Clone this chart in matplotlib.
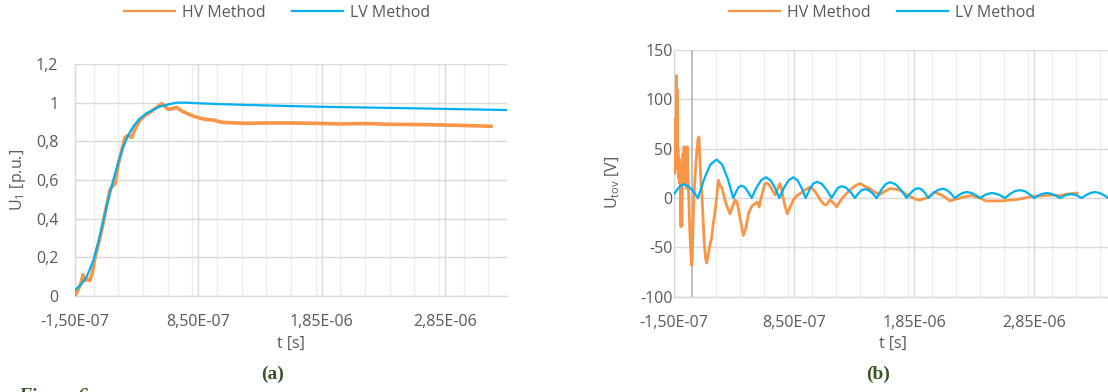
import matplotlib
matplotlib.use("Agg")
import matplotlib.pyplot as plt
from matplotlib.lines import Line2D
from matplotlib.ticker import FuncFormatter, MultipleLocator, FixedLocator

# ---------------- data (time in microseconds) ----------------
series_names = ["HV Method", "LV Method"]

# panel (a): U1 [p.u.]
t_hv_a = [-0.15, -0.12, -0.10, -0.085, -0.075, -0.05, -0.03, -0.01, 0.012, 0.04, 0.066,
          0.10, 0.134, 0.155, 0.174, 0.20, 0.229, 0.255, 0.28, 0.31, 0.34, 0.377, 0.42,
          0.458, 0.50, 0.553, 0.58, 0.607, 0.64, 0.675, 0.72, 0.756, 0.81, 0.864, 0.92,
          0.972, 1.03, 1.08, 1.16, 1.24, 1.4, 1.6, 1.8, 2.0, 2.2, 2.4, 2.6, 2.8, 3.0, 3.22]
v_hv_a = [0.0, 0.04, 0.07, 0.11, 0.08, 0.085, 0.08, 0.12, 0.20, 0.27, 0.34,
          0.45, 0.55, 0.57, 0.58, 0.68, 0.755, 0.82, 0.83, 0.82, 0.87, 0.91, 0.935,
          0.95, 0.97, 0.995, 0.98, 0.965, 0.97, 0.975, 0.955, 0.945, 0.93, 0.92, 0.912,
          0.91, 0.90, 0.897, 0.895, 0.893, 0.895, 0.895, 0.893, 0.89, 0.892, 0.888, 0.887,
          0.885, 0.882, 0.878]

t_lv_a = [-0.15, -0.1, -0.055, 0.0, 0.04, 0.08, 0.12, 0.16, 0.2, 0.24, 0.28, 0.32, 0.37,
          0.43, 0.49, 0.54, 0.6, 0.675, 0.75, 0.85, 1.0, 1.25, 1.5, 1.756, 2.0, 2.3, 2.67,
          3.0, 3.35]
v_lv_a = [0.03, 0.06, 0.10, 0.186, 0.28, 0.39, 0.50, 0.60, 0.69, 0.77, 0.83, 0.875, 0.915,
          0.945, 0.965, 0.98, 0.99, 1.0, 1.0, 0.997, 0.993, 0.988, 0.984, 0.98, 0.977, 0.974,
          0.97, 0.966, 0.962]

# panel (b): Utov [V]
t_hv_b = [-0.150, -0.147, -0.143, -0.138, -0.134, -0.130, -0.127, -0.124, -0.121, -0.117,
          -0.113, -0.108, -0.104, -0.100, -0.096, -0.092, -0.088, -0.084, -0.080, -0.075,
          -0.070, -0.066, -0.060, -0.052, -0.045, -0.040, -0.034, -0.028, -0.022, -0.016,
          -0.010, -0.004, 0.002, 0.008, 0.014, 0.022, 0.030, 0.039, 0.050, 0.058, 0.066,
          0.074, 0.082, 0.092, 0.102, 0.112, 0.122, 0.132, 0.145, 0.164, 0.178, 0.190,
          0.205, 0.22, 0.235, 0.248, 0.27, 0.29, 0.317, 0.34, 0.358, 0.375, 0.40, 0.428,
          0.45, 0.47, 0.50, 0.525, 0.545, 0.56, 0.58, 0.608, 0.63, 0.65, 0.67, 0.692,
          0.71, 0.733, 0.745, 0.76, 0.775, 0.794, 0.815, 0.844, 0.87, 0.90, 0.94, 0.983,
          1.0, 1.03, 1.06, 1.094, 1.12, 1.15, 1.18, 1.206, 1.23, 1.26, 1.30, 1.344, 1.37,
          1.40, 1.44, 1.483, 1.52, 1.567, 1.61, 1.65, 1.69, 1.733, 1.78, 1.817, 1.86, 1.90,
          1.95, 1.983, 2.02, 2.06, 2.09, 2.15, 2.20, 2.26, 2.33, 2.40, 2.45, 2.57, 2.71,
          2.84, 2.90, 2.98, 3.07, 3.13, 3.21]
v_hv_b = [60, 72, 25, 80, 30, 124, 40, 110, 30, 50,
          20, 40, 15, 35, -5, -29, 10, -28, 20, 45,
          15, 52, 30, 50, 10, 52, 20, 5, -20, -40,
          -55, -68, -60, -30, -5, 15, 30, 45, 60, 62, 40,
          15, 5, -20, -45, -60, -66, -60, -50, -40, -25, -16,
          0, 18, 12, 11, 0, -8, -16, -8, -2, -4, -20, -38,
          -30, -16, -8, -6, -4, -9, 2, 14.6, 15, 12, 8, 3,
          8, 14.6, 10, 0, -8, -16, -10, -2, 2, 4.4, 8, 11,
          10, 6, 0, -6, -7, -2, -5, -9, -4, 1, 6, 11, 13,
          14.6, 12, 9.5, 6, 3.7, 7, 9.5, 9, 8, 4, 1.7, -1, -2,
          0, 2, 6, 4, 2.5, -3, -1, 1, 2.5, 0, -3, -3, -1.5,
          1.7, 2, 3, 2.5, 4, 5]

t_lv_b = [-0.15, -0.12, -0.095, -0.07, -0.03, 0.01, 0.05,
          0.102, 0.153, 0.205, 0.251, 0.298, 0.344,
          0.366, 0.388, 0.41, 0.439, 0.468, 0.497,
          0.537, 0.577, 0.617, 0.654, 0.691, 0.728,
          0.767, 0.805, 0.844, 0.878, 0.913, 0.947,
          0.978, 1.009, 1.04, 1.081, 1.123, 1.164,
          1.192, 1.219, 1.247, 1.284, 1.321, 1.358,
          1.385, 1.413, 1.44, 1.473, 1.506, 1.539,
          1.576, 1.613, 1.65, 1.696, 1.743, 1.789,
          1.821, 1.854, 1.886, 1.914, 1.942, 1.97,
          2.01, 2.05, 2.09, 2.123, 2.157, 2.19,
          2.223, 2.257, 2.29, 2.327, 2.363, 2.40,
          2.433, 2.467, 2.50, 2.536, 2.572, 2.608,
          2.65, 2.691, 2.733, 2.772, 2.811, 2.85,
          2.885, 2.921, 2.956, 2.993, 3.03, 3.067,
          3.098, 3.129, 3.16, 3.189, 3.218, 3.247,
          3.284, 3.321, 3.358, 3.394, 3.431, 3.467, 3.50]
v_lv_b = [4, 9, 12.5, 14, 12, 7, 0,
          19.5, 34, 39, 34, 19.5, 0,
          6, 11, 12.5, 11, 6, 0,
          10.5, 18, 21, 18, 10.5, 0,
          10.5, 18, 21, 18, 10.5, 0,
          8, 14.5, 16.5, 14.5, 8, 0,
          6, 10.5, 12, 10.5, 6, 0,
          4.5, 8, 9, 8, 4.5, 0,
          8, 14, 16, 14, 8, 0,
          5, 8.7, 10, 8.7, 5, 0,
          4.7, 8.2, 9.5, 8.2, 4.7, 0,
          3, 5.2, 6, 5.2, 3, 0,
          2.5, 4.3, 5, 4.3, 2.5, 0,
          4, 7, 8, 7, 4, 0,
          2.5, 4.3, 5, 4.3, 2.5, 0,
          2, 3.5, 4, 3.5, 2, 0,
          3, 5.2, 6, 5.2, 3, 0, 2.5]

x_major_ticks = [-0.15, 0.85, 1.85, 2.85]
ya_ticks = [0, 0.2, 0.4, 0.6, 0.8, 1.0, 1.2]
yb_ticks = [-100, -50, 0, 50, 100, 150]

# ---------------- style ----------------
W, H = 1108, 392
ORANGE = "#F79646"
BLUE = "#00B0F0"
TXT = "#595959"
GRID = "#D9D9D9"
MINOR = "#EDEDED"
FONT = "Open Sans"
FS = 11.5

plt.rcParams["font.family"] = [FONT, "DejaVu Sans"]
plt.rcParams["mathtext.fontset"] = "custom"
plt.rcParams["mathtext.rm"] = FONT
plt.rcParams["mathtext.it"] = FONT + ":italic"

fig = plt.figure(figsize=(W / 100, H / 100), dpi=100)


def px_axes(left, top, right, bottom):
    return fig.add_axes([left / W, 1 - bottom / H, (right - left) / W, (bottom - top) / H])


def xfmt(v, pos):
    return ("%.2E" % (v * 1e-6)).replace(".", ",")


def yfmt(v, pos):
    s = ("%g" % round(v, 6))
    return s.replace(".", ",")


def style_axes(ax, yticks, ylab_pad):
    ax.set_axisbelow(True)
    ax.xaxis.set_major_locator(FixedLocator(x_major_ticks))
    ax.xaxis.set_minor_locator(MultipleLocator(0.2))
    ax.xaxis.set_major_formatter(FuncFormatter(xfmt))
    ax.set_yticks(yticks)
    ax.yaxis.set_major_formatter(FuncFormatter(yfmt))
    ax.grid(axis="y", which="major", color=GRID, lw=1.0)
    ax.grid(axis="x", which="major", color=GRID, lw=1.0)
    ax.grid(axis="x", which="minor", color=MINOR, lw=1.0)
    for s in ["top", "right"]:
        ax.spines[s].set_visible(False)
    for s in ["left", "bottom"]:
        ax.spines[s].set_color(GRID)
        ax.spines[s].set_linewidth(1.0)
    ax.tick_params(axis="both", which="both", length=0, labelsize=FS, colors=TXT)
    ax.tick_params(axis="x", pad=13)
    ax.tick_params(axis="y", pad=ylab_pad)
    ax.set_xlabel("t [s]", fontsize=FS, color=TXT, labelpad=4)


# panel (a)
axa = px_axes(75, 64, 507, 296)
axa.plot(t_hv_a, v_hv_a, color=ORANGE, lw=2.6, solid_joinstyle="round", zorder=3)
axa.plot(t_lv_a, v_lv_a, color=BLUE, lw=1.6, zorder=4)
axa.set_xlim(-0.15, 3.35)
axa.set_ylim(0, 1.2)
style_axes(axa, ya_ticks, 12)

# panel (b)
axb = px_axes(674, 50, 1112, 296.7)
axb.axvline(0, color="#BFBFBF", lw=1.4, zorder=1)
axb.plot(t_hv_b, v_hv_b, color=ORANGE, lw=2.0, solid_joinstyle="round", zorder=3)
axb.plot(t_lv_b, v_lv_b, color=BLUE, lw=1.6, zorder=4)
axb.set_xlim(-0.15, 3.5)
axb.set_ylim(-100, 150)
style_axes(axb, yb_ticks, 1)

# y labels
fig.text(18 / W, 1 - 180 / H, r"U$_\mathrm{1}$ [p.u.]", rotation=90, ha="center", va="center",
         fontsize=FS, color=TXT)
fig.text(613 / W, 1 - 182 / H, r"U$_\mathrm{tov}$ [V]", rotation=90, ha="center", va="center",
         fontsize=FS, color=TXT)

# legends
handles = [Line2D([], [], color=ORANGE, lw=1.6), Line2D([], [], color=BLUE, lw=1.6)]
for cx in (277, 882):
    fig.legend(handles, series_names, loc="center", bbox_to_anchor=(cx / W, 1 - 12.7 / H),
               ncol=2, frameon=False, fontsize=FS, handlelength=3.2, handletextpad=0.4,
               columnspacing=1.7, labelcolor=TXT)

# panel captions
CAP = "#375623"
fig.text(273 / W, 1 - 374 / H, "(a)", ha="center", va="center", fontsize=14,
         fontweight="bold", family="Liberation Serif", color=CAP)
fig.text(878 / W, 1 - 374 / H, "(b)", ha="center", va="center", fontsize=14,
         fontweight="bold", family="Liberation Serif", color=CAP)
fig.text(18 / W, 1 - 388 / H, "Figure 6", ha="left", va="top", fontsize=14,
         fontweight="bold", fontstyle="italic", family="Liberation Serif", color=CAP)

fig.savefig("out.png", dpi=100)
